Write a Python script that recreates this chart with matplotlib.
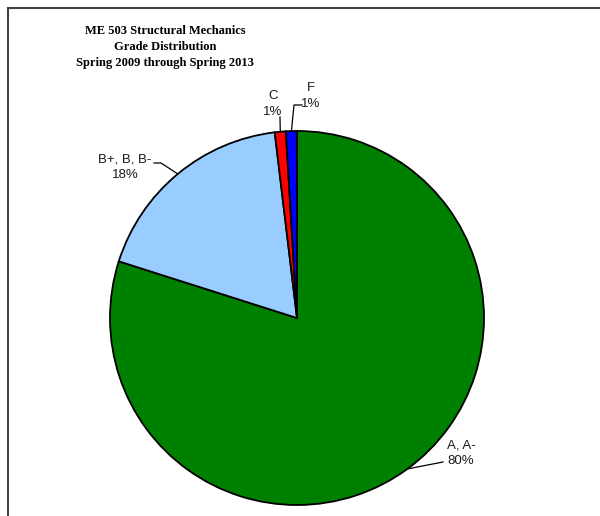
import numpy as np
import matplotlib
matplotlib.use('Agg')
import matplotlib.pyplot as plt
from matplotlib.lines import Line2D

# grade shares (percent)
grades = ['A, A-', 'B+, B, B-', 'C', 'F']
shares = [79.9, 18.2, 0.95, 0.95]
pct_labels = ['80%', '18%', '1%', '1%']
colors = ['#008000', '#99CCFF', '#FF0000', '#0000FF']

W, H = 600, 516
fig = plt.figure(figsize=(W / 100, H / 100), dpi=100)

# pie centre / radius in pixels
cx, cy, R = 297, 318, 187
ax = fig.add_axes([(cx - R) / W, (H - cy - R) / H, 2 * R / W, 2 * R / H])
wedges, _ = ax.pie(shares, colors=colors, startangle=90, counterclock=False,
                   wedgeprops=dict(edgecolor='black', linewidth=1.3))
ax.set_xlim(-1, 1)
ax.set_ylim(-1, 1)
ax.set_aspect('equal')
ax.axis('off')

def px(x, y):
    return (x - cx) / R, (cy - y) / R

# label centre and leader-line bend points (pixel positions)
text_pos = [(461, 453), (125, 167), (273, 104), (311, 96)]
leader_pts = [[(443, 462)],
              [(154, 163), (161, 163)],
              [(280, 117)],
              [(302, 105), (294, 105)]]

for w, g, p, tp, pts in zip(wedges, grades, pct_labels, text_pos, leader_pts):
    ang = np.deg2rad((w.theta1 + w.theta2) / 2)
    ex, ey = np.cos(ang), np.sin(ang)
    xs = [px(*q)[0] for q in pts] + [ex]
    ys = [px(*q)[1] for q in pts] + [ey]
    ax.plot(xs, ys, color='black', lw=0.9, clip_on=False)
    tx, ty = px(*tp)
    ax.text(tx, ty, g + '\n' + p, ha='center', va='center', fontsize=9.5,
            family='Liberation Sans', color='#1a1a1a', linespacing=1.4,
            clip_on=False)

fig.text(165 / W, 1 - 47 / H,
         'ME 503 Structural Mechanics\nGrade Distribution\nSpring 2009 through Spring 2013',
         ha='center', va='center', fontsize=9, fontweight='bold',
         family='Liberation Serif', linespacing=1.45)

# chart frame (only top and left edges are visible)
fx, fy = 8 / W, 1 - 8 / H
fig.add_artist(Line2D([fx, fx], [0, fy], color='#444444', lw=1.5))
fig.add_artist(Line2D([fx, 1], [fy, fy], color='#444444', lw=1.5))

fig.savefig('out.png', dpi=100)
